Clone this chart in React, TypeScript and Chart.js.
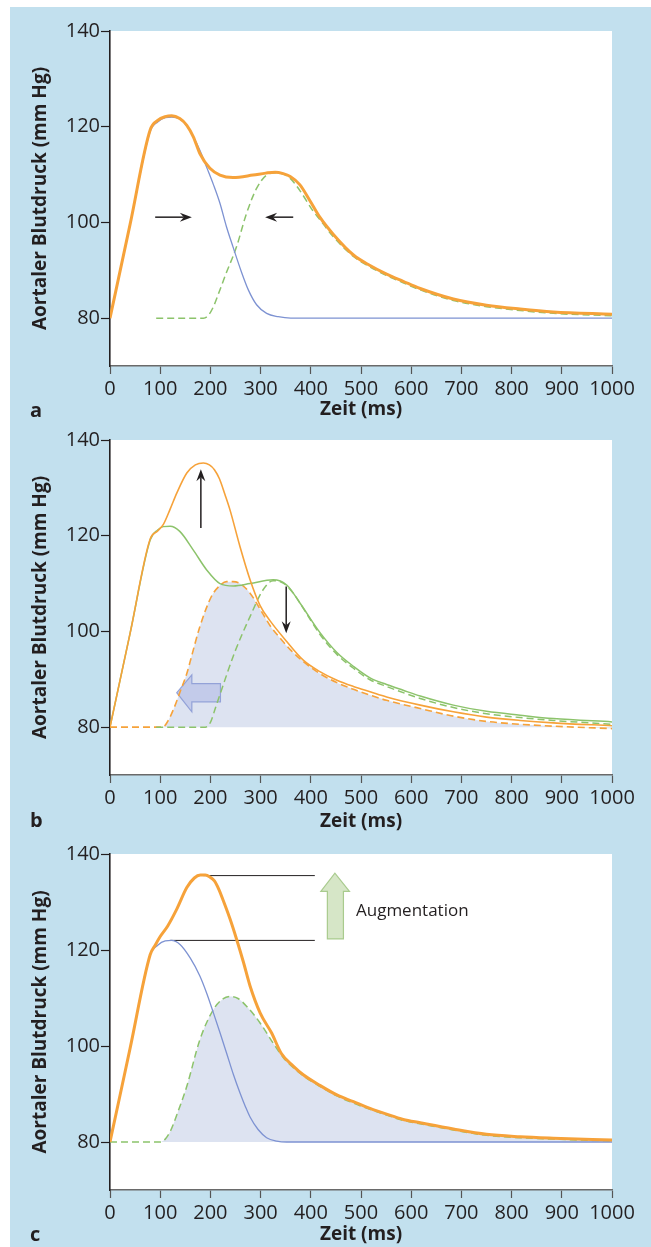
import React, { useEffect, useRef } from "react";
import { Chart, registerables } from "chart.js";

Chart.register(...registerables);
Chart.defaults.font.family = "'Open Sans', 'Noto Sans', sans-serif";

// ---------- shared axis data ----------
const X_TICKS = [0, 100, 200, 300, 400, 500, 600, 700, 800, 900, 1000];
const Y_TICKS = [80, 100, 120, 140];
const X_LABEL = "Zeit (ms)";
const Y_LABEL = "Aortaler Blutdruck (mm Hg)";

// ---------- panel a ----------
const A_FWD_T = [0, 40, 80, 95, 110, 123, 139, 153, 166, 179, 193, 206, 219, 232, 245, 262, 276, 292, 312, 335, 360, 1000];
const A_FWD_P = [80, 99.5, 119, 121, 121.9, 122, 121.6, 120.2, 117.9, 115.1, 111.4, 107.9, 104, 99.1, 94.9, 89.6, 85.8, 82.8, 81, 80.3, 80, 80];
const A_REF_T = [92, 186, 196, 206, 215, 230, 252, 272, 292, 312, 332, 345, 359, 378, 405, 418, 445, 485, 518, 551, 584, 618, 684, 750, 817, 883, 1000];
const A_REF_P = [80, 80, 80.6, 82.4, 84.8, 89, 94.9, 101.9, 107.1, 109.9, 110.4, 110.1, 109.2, 106.7, 102.3, 100.6, 97, 92.9, 90.7, 88.9, 87.4, 85.9, 83.7, 82.4, 81.6, 81, 80.5];
const A_SUM_T = [0, 40, 80, 95, 110, 123, 139, 153, 166, 179, 199, 219, 245, 285, 310, 329, 345, 359, 378, 398, 418, 445, 485, 518, 551, 584, 618, 684, 750, 817, 883, 1000];
const A_SUM_P = [80, 99.6, 119.3, 121.3, 122.1, 122.3, 121.7, 120.3, 117.9, 114.4, 111.3, 109.9, 109.4, 109.9, 110.3, 110.5, 110.2, 109.6, 107.9, 104.6, 101.1, 97.5, 93.2, 91, 89.2, 87.7, 86.2, 84, 82.7, 81.9, 81.3, 80.8];
const A_ARROWS = [
  { from: [90, 101.1], to: [163, 101.1] },
  { from: [365, 101.1], to: [309, 101.1] },
];

// ---------- panel b ----------
const B_NORM_T = [0, 40, 80, 95, 106, 120, 139, 166, 193, 219, 246, 279, 325, 352, 378, 418, 452, 485, 518, 551, 584, 618, 684, 750, 817, 883, 1000];
const B_NORM_P = [80, 99.6, 119.1, 121.2, 121.9, 122, 120.9, 117, 112.8, 110, 109.5, 110, 110.8, 109.7, 106, 99.8, 95.6, 92.7, 90.3, 88.9, 87.7, 86.5, 84.6, 83.3, 82.5, 81.8, 81.1];
const B_NREF_T = [92, 190, 200, 210, 219, 249, 279, 305, 325, 345, 365, 390, 418, 452, 485, 518, 551, 618, 684, 750, 817, 883, 1000];
const B_NREF_P = [80, 80, 81, 84, 86.8, 95.8, 103.1, 108.7, 110.6, 110.1, 108, 104, 99.4, 95.2, 92.3, 89.9, 88.5, 86, 84.1, 82.8, 82, 81.4, 80.6];
const B_AUG_T = [0, 40, 80, 95, 106, 120, 133, 153, 170, 186, 198, 208, 218, 229, 239, 259, 279, 299, 319, 352, 385, 418, 452, 485, 518, 551, 618, 684, 750, 817, 883, 1000];
const B_AUG_P = [80, 99.6, 119.3, 121, 122.3, 125.6, 128.9, 133.1, 134.8, 135.2, 134.8, 133.8, 131.9, 128.6, 125.4, 117.7, 110.8, 105.4, 102.2, 97.9, 94, 91.6, 89.8, 88.5, 87.4, 86.3, 84.6, 83.2, 82.1, 81.4, 80.9, 80.3];
const B_EREF_T = [0, 105, 115, 126, 140, 153, 163, 179, 202, 218, 232, 245, 259, 279, 305, 319, 339, 359, 385, 418, 452, 485, 518, 551, 618, 684, 750, 817, 883, 1000];
const B_EREF_P = [80, 80, 81.2, 83.6, 87.5, 91.2, 95, 101, 107.3, 109.5, 110.4, 110.4, 110, 108, 103.6, 101.2, 98.6, 96.2, 93.7, 91.2, 89.3, 87.9, 86.7, 85.6, 83.9, 82.3, 81.2, 80.6, 80.2, 79.7];
const B_ARROWS = [
  { from: [181, 121.6], to: [181, 133.9] },
  { from: [351, 109.4], to: [351, 99.6] },
];
const B_BLOCK = [[220, 89.1], [163, 89.1], [163, 90.9], [133, 87.2], [163, 83.2], [163, 85.3], [220, 85.3]];

// ---------- panel c ----------
const C_FWD_T = [0, 40, 80, 95, 110, 122, 140, 160, 179, 193, 206, 219, 232, 246, 259, 270, 279, 295, 312, 332, 352, 1000];
const C_FWD_P = [80, 99.5, 119, 121, 121.9, 122, 121.1, 118.3, 114.6, 110.9, 106.9, 102.8, 98.6, 94, 90.2, 87.3, 85.2, 82.6, 80.9, 80.2, 80, 80];
const C_REF_T = [0, 100, 110, 120, 135, 153, 179, 206, 225, 239, 255, 272, 299, 325, 345, 365, 385, 418, 452, 485, 518, 551, 584, 618, 684, 750, 817, 883, 1000];
const C_REF_P = [80, 80, 80.6, 82.2, 86.2, 91.6, 101.3, 107.6, 109.8, 110.3, 109.9, 108.3, 104.8, 100.6, 97.6, 95.5, 93.8, 91.6, 89.6, 88.1, 86.8, 85.6, 84.5, 83.8, 82.5, 81.4, 80.9, 80.6, 80.2];
const C_SUM_T = [0, 40, 80, 90, 100, 115, 133, 153, 168, 180, 190, 199, 208, 217, 226, 239, 252, 266, 279, 299, 322, 341, 365, 385, 418, 452, 485, 518, 551, 584, 618, 684, 750, 817, 883, 1000];
const C_SUM_P = [80, 99.5, 119, 121, 122.8, 125, 128.5, 133, 135, 135.6, 135.6, 135.2, 134.4, 132.6, 130.2, 126.5, 122.3, 117.4, 112.5, 106.9, 102.7, 98.5, 95.8, 94, 91.8, 89.8, 88.4, 87, 85.8, 84.7, 84, 82.7, 81.6, 81.1, 80.8, 80.4];
const C_HI_T = [186, 408];
const C_HI_P = [135.5, 135.5];
const C_LO_T = [120, 408];
const C_LO_P = [122, 122];
const C_BLOCK = [[433, 122.3], [433, 132.2], [420, 132.2], [448, 136], [477, 132.2], [465, 132.2], [465, 122.3]];
const C_TEXT = { text: "Augmentation", at: [490, 128] };

// ---------- styles ----------
const ORANGE = "#f6a23a";
const BLUE = "#7d92d2";
const GREEN = "#8cc36b";
const SHADE = "#dde3f1";
const BG = "#c2e0ee";
const INK = "#231f20";

const pts = (t: number[], p: number[]) => t.map((x, i) => ({ x, y: p[i] }));

function line(t: number[], p: number[], color: string, width: number, dash: number[] = [], fill: any = false) {
  return {
    data: pts(t, p),
    borderColor: color,
    borderWidth: width,
    borderDash: dash,
    pointRadius: 0,
    cubicInterpolationMode: "monotone",
    fill,
    backgroundColor: SHADE,
  };
}

const DASH = [7, 4];

const PANELS = [
  {
    label: "a", top: 0, height: 420, padTop: 24, xHeight: 61, titleBottom: 5.6, labelY: 410,
    datasets: [
      line(A_SUM_T, A_SUM_P, ORANGE, 3),
      line(A_FWD_T, A_FWD_P, BLUE, 1.3),
      line(A_REF_T, A_REF_P, GREEN, 1.5, DASH),
    ],
    arrows: A_ARROWS, blocks: [] as any[], texts: [] as any[],
  },
  {
    label: "b", top: 420, height: 413, padTop: 13, xHeight: 65, titleBottom: 6.6, labelY: 400,
    datasets: [
      line(B_AUG_T, B_AUG_P, ORANGE, 1.6),
      line(B_NORM_T, B_NORM_P, GREEN, 1.5),
      line(B_NREF_T, B_NREF_P, GREEN, 1.5, DASH),
      line(B_EREF_T, B_EREF_P, ORANGE, 1.6, DASH, { value: 80 }),
    ],
    arrows: B_ARROWS,
    blocks: [{ pts: B_BLOCK, fill: "#c3cbea", stroke: "#93a2d8" }],
    texts: [] as any[],
  },
  {
    label: "c", top: 833, height: 407, padTop: 14, xHeight: 57, titleBottom: 0.6, labelY: 401,
    datasets: [
      line(C_SUM_T, C_SUM_P, ORANGE, 3),
      line(C_FWD_T, C_FWD_P, BLUE, 1.3),
      line(C_HI_T, C_HI_P, INK, 1),
      line(C_LO_T, C_LO_P, INK, 1),
      line(C_REF_T, C_REF_P, GREEN, 1.5, DASH, { value: 80 }),
    ],
    arrows: [] as any[],
    blocks: [{ pts: C_BLOCK, fill: "#d6e6c7", stroke: "#a9cb8e" }],
    texts: [C_TEXT],
  },
];

function drawArrow(ctx: CanvasRenderingContext2D, x1: number, y1: number, x2: number, y2: number) {
  const a = Math.atan2(y2 - y1, x2 - x1);
  const c = Math.cos(a), s = Math.sin(a);
  const hl = 12, hw = 4.5, notch = 8;
  ctx.beginPath();
  ctx.moveTo(x1, y1);
  ctx.lineTo(x2 - c * notch, y2 - s * notch);
  ctx.stroke();
  ctx.beginPath();
  ctx.moveTo(x2, y2);
  ctx.lineTo(x2 - c * hl - s * hw, y2 - s * hl + c * hw);
  ctx.lineTo(x2 - c * notch, y2 - s * notch);
  ctx.lineTo(x2 - c * hl + s * hw, y2 - s * hl - c * hw);
  ctx.closePath();
  ctx.fill();
}

const decoPlugin = {
  id: "deco",
  beforeDraw(chart: any) {
    const { ctx, chartArea: ca } = chart;
    ctx.save();
    ctx.fillStyle = "#ffffff";
    ctx.fillRect(ca.left, ca.top, ca.right - ca.left, ca.bottom - ca.top);
    ctx.restore();
  },
  beforeDatasetsDraw(chart: any, _a: any, opts: any) {
    const { ctx, scales } = chart;
    ctx.save();
    for (const b of opts.blocks || []) {
      ctx.beginPath();
      b.pts.forEach((p: number[], i: number) => {
        const x = scales.x.getPixelForValue(p[0]);
        const y = scales.y.getPixelForValue(p[1]);
        if (i === 0) ctx.moveTo(x, y); else ctx.lineTo(x, y);
      });
      ctx.closePath();
      ctx.fillStyle = b.fill;
      ctx.fill();
      ctx.strokeStyle = b.stroke;
      ctx.lineWidth = 1.2;
      ctx.stroke();
    }
    ctx.restore();
  },
  afterDatasetsDraw(chart: any, _a: any, opts: any) {
    const { ctx, scales } = chart;
    ctx.save();
    ctx.strokeStyle = INK;
    ctx.fillStyle = INK;
    ctx.lineWidth = 1.5;
    for (const ar of opts.arrows || []) {
      drawArrow(
        ctx,
        scales.x.getPixelForValue(ar.from[0]), scales.y.getPixelForValue(ar.from[1]),
        scales.x.getPixelForValue(ar.to[0]), scales.y.getPixelForValue(ar.to[1])
      );
    }
    ctx.font = "17px 'Open Sans'";
    ctx.textAlign = "left";
    ctx.textBaseline = "middle";
    for (const t of opts.texts || []) {
      ctx.fillText(t.text, scales.x.getPixelForValue(t.at[0]), scales.y.getPixelForValue(t.at[1]));
    }
    ctx.restore();
  },
  afterDraw(chart: any, _a: any, opts: any) {
    const { ctx } = chart;
    ctx.save();
    ctx.fillStyle = INK;
    ctx.font = "bold 20px 'Open Sans'";
    ctx.textAlign = "left";
    ctx.textBaseline = "alphabetic";
    ctx.fillText(opts.label, 20, opts.labelY);
    ctx.restore();
  },
};

function PanelChart({ panel }: { panel: any }) {
  const ref = useRef<HTMLCanvasElement | null>(null);
  useEffect(() => {
    if (!ref.current) return;
    const chart = new Chart(ref.current, {
      type: "line",
      data: { datasets: panel.datasets },
      plugins: [decoPlugin],
      options: {
        responsive: false,
        animation: false,
        devicePixelRatio: 1,
        layout: { padding: { top: panel.padTop, right: 39, bottom: 0, left: 0 } },
        plugins: {
          legend: { display: false },
          tooltip: { enabled: false },
          filler: { drawTime: "beforeDatasetsDraw" },
          deco: { arrows: panel.arrows, blocks: panel.blocks, texts: panel.texts, label: panel.label, labelY: panel.labelY },
        } as any,
        scales: {
          x: {
            type: "linear",
            min: 0,
            max: 1000,
            afterBuildTicks: (s: any) => { s.ticks = X_TICKS.map((v) => ({ value: v })); },
            afterFit: (s: any) => { s.height = panel.xHeight; },
            grid: { drawOnChartArea: false, drawTicks: true, tickLength: 8, tickColor: "#555555", tickWidth: 1.2 },
            border: { display: true, color: "#6a6a6a", width: 1.6 },
            ticks: { padding: 3, color: INK, font: { size: 20 }, maxRotation: 0, autoSkip: false, callback: (v: any) => String(v) },
            title: { display: true, text: X_LABEL, color: INK, font: { size: 19, weight: "bold" }, padding: { top: 0, bottom: panel.titleBottom } },
          },
          y: {
            type: "linear",
            min: 70,
            max: 140,
            afterBuildTicks: (s: any) => { s.ticks = Y_TICKS.map((v) => ({ value: v })); },
            afterFit: (s: any) => { s.width = 100; },
            grid: { drawOnChartArea: false, drawTicks: true, tickLength: 9, tickColor: INK, tickWidth: 1.2 },
            border: { display: true, color: INK, width: 1.6 },
            ticks: { padding: 1, color: INK, font: { size: 20 }, callback: (v: any) => String(v) },
            title: { display: true, text: Y_LABEL, color: INK, font: { size: 19, weight: "bold" }, padding: { top: 19.6, bottom: 0 } },
          },
        },
      } as any,
    });
    return () => chart.destroy();
  }, [panel]);
  return (
    <canvas
      ref={ref}
      width={641}
      height={panel.height}
      style={{ position: "absolute", left: 0, top: panel.top, width: 641, height: panel.height }}
    />
  );
}

export default function App() {
  return (
    <div style={{ position: "absolute", left: 10, top: 7, width: 641, height: 1240, background: BG, overflow: "hidden" }}>
      {PANELS.map((p) => (
        <PanelChart key={p.label} panel={p} />
      ))}
    </div>
  );
}
